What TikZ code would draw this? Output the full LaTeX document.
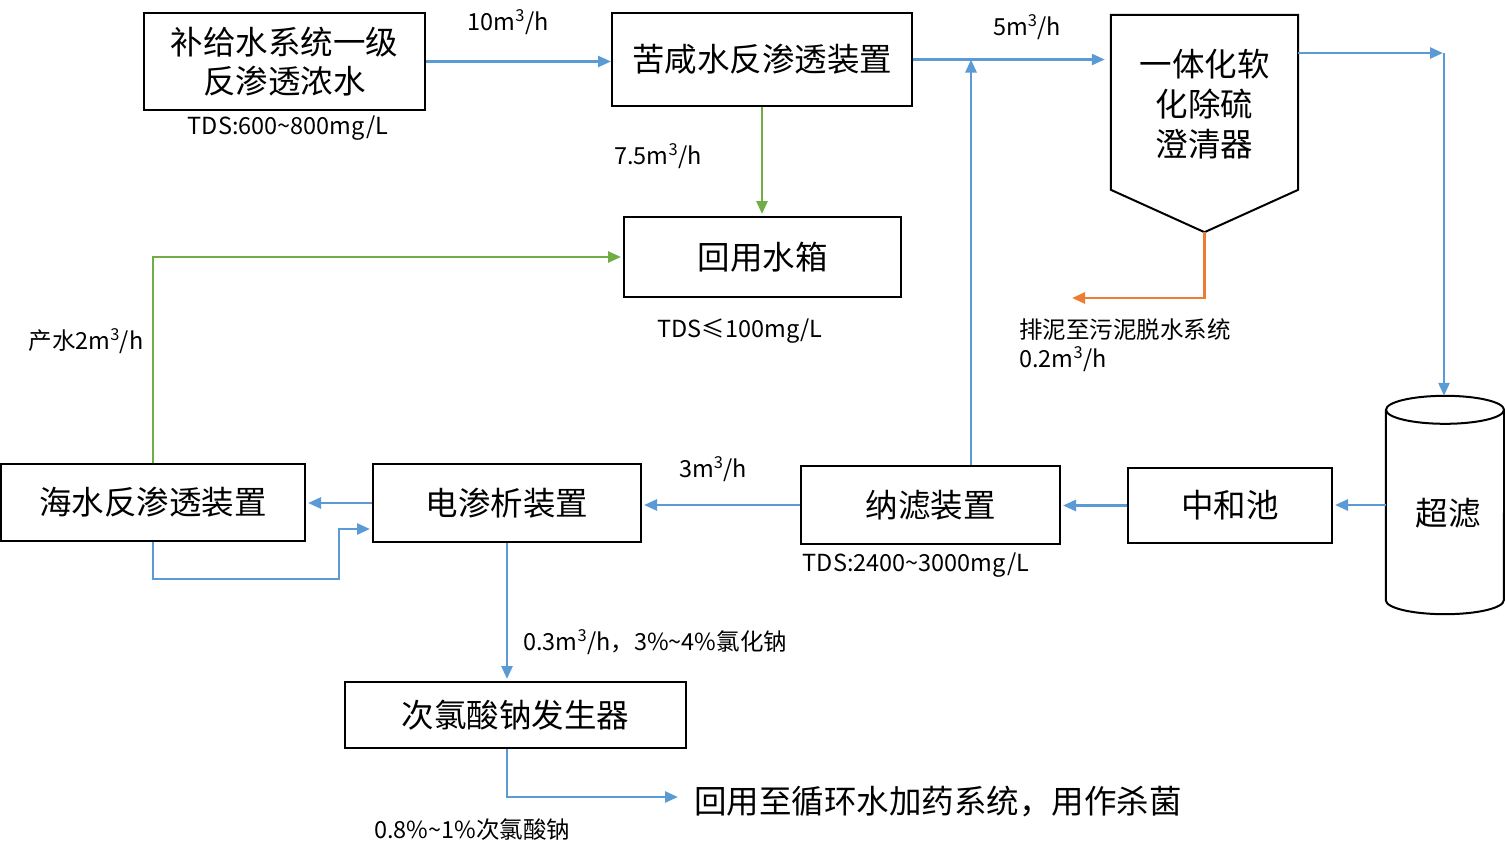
\documentclass[tikz,border=0pt]{standalone}
\usepackage{fontspec}
\setmainfont{Noto Sans CJK SC}
\usetikzlibrary{arrows.meta,calc}
\definecolor{cblue}{HTML}{5B9BD5}
\definecolor{cgreen}{HTML}{70AD47}
\definecolor{corange}{HTML}{ED7D31}
\tikzset{
  box/.style={draw=black,line width=2pt,inner sep=0pt,align=center,font=\fontsize{32.5}{39}\selectfont},
  ghost/.style={draw=none,inner sep=0pt,align=center,font=\fontsize{32.5}{40}\selectfont},
  lbl/.style={inner sep=0pt,font=\fontsize{23.5}{29}\selectfont,align=left},
  flow/.style={line width=2.6pt,-{Triangle[length=13pt,width=11pt]}},
  bflow/.style={flow,draw=cblue},
  gflow/.style={flow,draw=cgreen},
  oflow/.style={flow,draw=corange},
}
\newcommand{\mh}[1]{#1m\textsuperscript{3}/h}
\begin{document}
\begin{tikzpicture}[x=1pt,y=-1pt]
\useasboundingbox (0,0) rectangle (1505,860);
% boxes
\node[box,minimum width=281pt,minimum height=97pt] (A) at (284.5,61.5) {补给水系统一级\\反渗透浓水};
\node[box,minimum width=300pt,minimum height=93pt] (B) at (762,59.5) {苦咸水反渗透装置};
\node[ghost,minimum width=187pt,minimum height=217pt] (C) at (1204.5,123.5) {};
\node[ghost,anchor=center] (Ct) at (1204.5,104) {一体化软\\化除硫\\澄清器};
\draw[line width=2pt,line join=miter] (C.north west) -- (C.north east) -- ($(C.north east)+(0,175)$) -- (C.south) -- ($(C.north west)+(0,175)$) -- cycle;
\node[box,minimum width=277pt,minimum height=80pt] (D) at (762.5,257) {回用水箱};
\node[ghost,minimum width=118pt,minimum height=218pt] (E) at (1445,505) {};
\node[ghost] (Et) at (1448,513) {超滤};
\draw[line width=2pt] ($(E.north)+(0,14)$) ellipse [x radius=59pt,y radius=14pt];
\draw[line width=2pt] ($(E.north west)+(0,14)$) -- ($(E.south west)+(0,-14)$) arc[start angle=180,end angle=360,x radius=59pt,y radius=14pt] -- ($(E.north east)+(0,14)$);
\node[box,minimum width=204pt,minimum height=75pt] (F) at (1230,505.5) {中和池};
\node[box,minimum width=259pt,minimum height=78pt] (G) at (930.5,505) {纳滤装置};
\node[box,minimum width=268pt,minimum height=78pt] (H) at (507,503) {电渗析装置};
\node[box,minimum width=304pt,minimum height=77pt] (I) at (153,502.5) {海水反渗透装置};
\node[box,minimum width=341pt,minimum height=66pt] (J) at (515.5,715) {次氯酸钠发生器};
\node[ghost,anchor=west,inner sep=0pt] (K) at (694,802) {回用至循环水加药系统，用作杀菌};
% coordinates
\coordinate (j1) at (971,59.5);
\coordinate (tr) at (1444,53);
\coordinate (sl) at (1072,298);
\coordinate (b1) at (339,579);
% connectors
\draw[bflow] (A.east) -- (A.east -| B.west);
\draw[bflow,shorten >=6pt] (B.east) -- (B.east -| C.west);
\draw[bflow] (j1 |- G.north) -- (j1);
\draw[bflow,shorten >=1pt] (C.east |- tr) -- (tr);
\draw[bflow] (tr) -- (tr |- E.north);
\draw[oflow] (C.south) |- (sl);
\draw[gflow,shorten >=2pt] (B.south) -- (B.south |- D.north);
\draw[gflow,shorten >=2pt] (I.north) |- (D.west);
\draw[bflow,shorten >=2pt] (E.west) -- (E.west -| F.east);
\draw[bflow,shorten >=2pt] (F.west) -- (F.west -| G.east);
\draw[bflow,shorten >=2pt] (G.west) -- (G.west -| H.east);
\draw[bflow,shorten >=2pt] (H.west) -- (H.west -| I.east);
\draw[bflow,shorten >=2pt] (I.south) |- (b1) |- ($(H.west)+(0,26)$);
\draw[bflow,shorten >=2pt] (H.south) -- (H.south |- J.north);
\draw[bflow,shorten >=16pt] (H.south |- J.south) |- ($(K.west)+(0,-5)$);
% labels
\node[lbl] (l1) at (508,22) {\mh{10}};
\node[lbl] (l2) at (1027,27) {\mh{5}};
\node[lbl] (l3) at (658,156) {\mh{7.5}};
\node[lbl] (l4) at (288,128) {TDS:600\textasciitilde800mg/L};
\node[lbl] (l5) at (740,331) {TDS≤100mg/L};
\node[lbl] (l6) at (86,341) {产水\mh{2}};
\node[lbl,anchor=west] (l7) at (1019,330) {排泥至污泥脱水系统};
\node[lbl,anchor=west] (l7b) at (1019,359) {\mh{0.2}};
\node[lbl] (l8) at (713,469) {\mh{3}};
\node[lbl] (l9) at (916,565) {TDS:2400\textasciitilde3000mg/L};
\node[lbl,anchor=west] (l10) at (523,642) {\mh{0.3}，3\%\textasciitilde4\%氯化钠};
\node[lbl,anchor=west] (l11) at (374,830) {0.8\%\textasciitilde1\%次氯酸钠};
\end{tikzpicture}
\end{document}
